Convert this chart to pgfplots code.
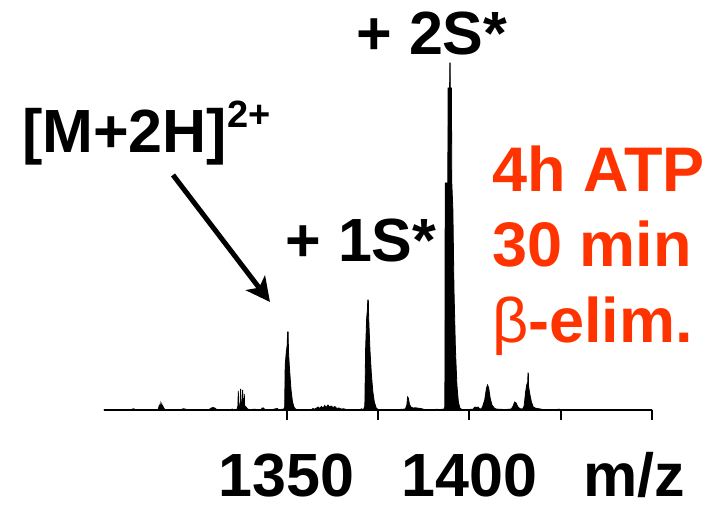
\documentclass[border=0pt]{standalone}
\usepackage{pgfplots}
\pgfplotsset{compat=1.18}
\usepackage{fontspec}
\setmainfont{Liberation Sans}
\usetikzlibrary{arrows.meta}
\definecolor{redlab}{RGB}{255,51,0}
\begin{document}
\begin{tikzpicture}[x=1pt,y=1pt]
\useasboundingbox (0,0) rectangle (715,505);
\begin{axis}[
  at={(104pt,95pt)}, anchor=south west,
  scale only axis, width=548pt, height=360pt,
  xmin=1300, xmax=1450, ymin=0, ymax=360,
  axis x line=bottom, axis y line=none,
  x axis line style={-, line width=2.5pt},
  clip=false,
  xtick={1350,1375,1400,1425,1450},
  xticklabels={\textbf{1350},{},\textbf{1400},{},{}},
  tick align=outside, major tick length=10pt,
  tick style={line width=2pt, black},
  xticklabel style={font=\fontsize{61}{61}\selectfont, anchor=base, yshift=-77pt, inner sep=0pt},
]
\addplot[draw=black, fill=black, line width=0.8pt] coordinates {
(1300,0.3)(1304,0.3)
(1307.6,0.3)(1307.9,1.2)(1308.3,1)(1308.6,0.3)
(1312,0.4)
(1314.8,0.5)(1315.1,4)(1315.25,1.5)(1315.4,6)(1315.55,2)(1315.8,6)(1315.95,2)(1316.1,4)(1316.4,1.5)(1316.8,0.4)
(1319,0.3)
(1321.2,0.4)(1321.6,1.2)(1322.2,1)(1322.6,0.3)
(1326,0.4)
(1328.8,0.5)(1329.3,1.8)(1329.8,2.5)(1330.3,2)(1330.8,0.6)
(1333,0.4)
(1334.8,0.3)(1335.1,1)(1335.4,0.4)
(1336.4,0.6)(1336.65,4)(1336.76,19)(1336.87,4)(1337.25,5)(1337.4,21)(1337.55,6)(1337.85,6)(1337.95,20)(1338.05,6)(1338.3,5)(1338.4,16)(1338.5,4)(1338.9,3)(1339.3,1)(1339.8,0.4)
(1341.5,0.8)(1341.8,0.3)
(1343,0.5)(1343.3,2)(1343.7,2)(1344,0.4)
(1346,0.4)(1347.4,1.5)(1347.8,0.4)
(1349.2,0.8)(1349.45,3)(1349.6,45)(1349.9,58)(1350.15,65)(1350.25,78)(1350.4,78)(1350.5,58)(1350.8,40)(1351.2,20)(1351.6,8)(1352,3)(1352.4,1)(1352.9,0.4)
(1355,0.4)
(1356.8,0.5)(1357.2,1.5)(1357.6,0.8)(1358.2,2)(1358.6,3)(1359,1.5)(1359.5,3.5)(1360.0,2)(1360.4,4.5)(1360.8,2.5)(1361.3,5)(1361.7,3)(1362.2,4)(1362.7,2.5)(1363.2,3.5)(1363.7,1.5)(1364.3,2)(1364.9,1)(1365.6,1.2)(1366.3,0.5)
(1368,0.4)
(1370.2,0.5)(1370.5,1.2)(1370.8,0.4)
(1371.1,1)(1371.4,4)(1371.6,60)(1371.9,92)(1372.1,100)(1372.2,110)(1372.35,110)(1372.45,92)(1372.8,60)(1373.2,35)(1373.6,18)(1374,8)(1374.5,2)(1375,0.6)
(1377,0.4)(1379,0.5)(1380.5,0.4)
(1382.5,1)(1382.9,5)(1383.1,13)(1383.3,12)(1383.6,6)(1384,3)(1384.6,2)(1385.3,2.2)(1386,1.8)(1386.8,1.4)(1387.4,0.8)(1388,0.4)
(1390.5,0.4)(1391.2,0.8)(1391.6,0.4)
(1393,0.8)(1393.3,3)(1393.4,227)(1394.1,227)(1394.2,322)(1394.6,322)(1394.65,347)(1394.75,347)(1394.8,322)(1395.1,322)(1395.2,227)(1395.5,200)(1395.8,120)(1396.2,60)(1396.6,25)(1397,8)(1397.4,2)(1397.9,0.6)
(1399.5,0.4)
(1401,0.8)(1401.5,3)(1402,2.5)(1402.4,3)(1402.8,1.2)
(1403.2,1)(1403.6,3)(1404.2,10)(1404.7,22)(1405,25)(1405.3,22)(1405.7,12)(1406.2,5)(1406.8,2)(1407.3,1)(1408,0.8)(1409,0.6)(1410,0.5)
(1411.5,1)(1412,4)(1412.4,8)(1412.8,7)(1413.3,3)(1413.9,1.2)
(1414.6,1)(1415,4)(1415.4,18)(1415.7,25)(1416,28)(1416.05,37)(1416.15,37)(1416.2,24)(1416.6,15)(1417,8)(1417.5,3)(1418,2)(1418.5,1.5)(1419.5,1)(1420,0.5)
(1422,0.3)(1424.2,0.3)(1424.5,0.9)(1424.8,0.3)(1430,0.3)(1450,0.3)
} \closedcycle;
\end{axis}
\tikzset{lab/.style={inner sep=0pt, font=\fontsize{61}{61}\selectfont\bfseries}}
\node[lab, anchor=base] at (432,450) {+ 2S*};
\node[lab, anchor=base] at (361,243) {+ 1S*};
\node[lab, anchor=base west] at (22,352) {[M+2H]\raisebox{25pt}{\fontsize{38}{38}\selectfont 2+}};
\node[lab, anchor=base] at (634,8) {m/z};
\begin{scope}[every node/.style={inner sep=0pt, anchor=base west, text=redlab, font=\fontsize{63}{63}\selectfont\bfseries}]
\node at (492,313) {4h ATP};
\node at (492,238) {30 min};
\node at (492,162) {{\mdseries β}-elim.};
\end{scope}
\draw[line width=5pt, -{Stealth[length=24pt, width=24pt, inset=6pt]}] (173,330) -- (270,203);
\end{tikzpicture}
\end{document}
